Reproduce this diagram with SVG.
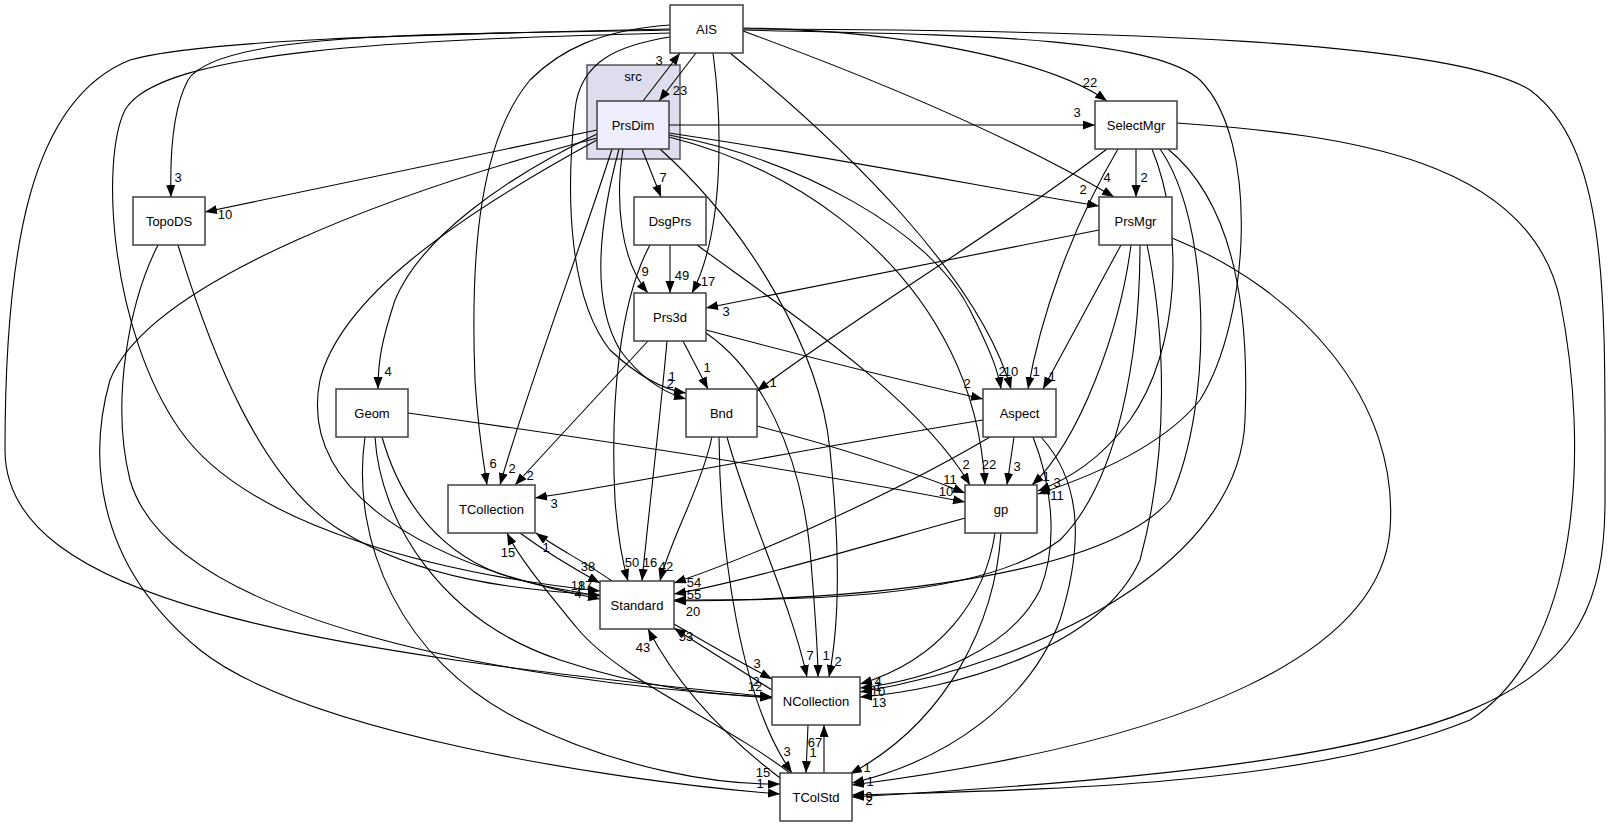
<svg xmlns="http://www.w3.org/2000/svg" width="1611" height="827" viewBox="0 0 1611 827">
<style>
.n rect{fill:#fff;stroke:#404040;stroke-width:1.5}
.n text{font-family:"Liberation Sans",Arial,sans-serif;font-size:13px;text-anchor:middle;fill:#000}
#edges path{fill:none;stroke:#000;stroke-width:1.1;marker-end:url(#ah)}
#edges text{font-family:"Liberation Sans",Arial,sans-serif;font-size:13px;text-anchor:middle;fill:#000}
</style>
<defs>
<marker id="ah" markerUnits="userSpaceOnUse" markerWidth="13" markerHeight="10" refX="12" refY="4.5" orient="auto"><path d="M0,0 L12,4.5 L0,9 z" fill="#000"/></marker>
</defs>
<rect width="1611" height="827" fill="#fff"/>
<g id="cluster_src">
<rect x="587" y="65" width="93" height="94" fill="#ddddee" stroke="#555" stroke-width="1.5"/>
<text x="633" y="81" font-family="Liberation Sans,Arial,sans-serif" font-size="13" text-anchor="middle">src</text>
</g>
<g id="edges">
<!-- AIS / PrsDim -->
<path d="M696,53 L659,101"/><text x="680" y="95">23</text>
<path d="M643,101 L680,53"/><text x="659" y="65">3</text>
<path d="M743,28 C900,30 1050,60 1107,101"/><text x="1090" y="87">22</text>
<path d="M670,30 C450,35 220,30 188,80 C172,110 170,160 171,197"/><text x="178" y="182">3</text>
<path d="M743,31 C850,70 1000,130 1114,197"/><text x="1107" y="182">4</text>
<path d="M713,53 C722,120 725,230 692,293"/><text x="708" y="286">17</text>
<path d="M730,53 C850,150 980,280 1011,389"/><text x="1011" y="376">10</text>
<path d="M670,37 C620,45 580,60 575,110 C565,200 570,300 610,350 C640,378 665,390 686,393"/><text x="672" y="381">1</text>
<path d="M670,25 C600,30 560,50 530,80 C480,140 470,250 475,380 C478,430 483,460 487,485"/><text x="493" y="468">6</text>
<path d="M743,30 C950,35 1150,35 1200,80 C1260,140 1250,320 1200,400 C1160,450 1080,480 1038,494"/><text x="1057" y="500">11</text>
<path d="M743,29 C1100,30 1450,40 1530,90 C1610,150 1605,300 1605,500 C1605,700 1500,760 852,797"/><text x="869" y="801">9</text>
<path d="M670,33 C400,40 160,50 125,110 C100,160 110,330 180,430 C250,530 450,575 600,591"/><text x="578" y="590">18</text>
<path d="M670,29 C400,35 200,40 130,60 C30,100 5,250 5,450 C5,600 300,650 772,697"/><text x="755" y="691">12</text>
<!-- PrsDim -->
<path d="M669,125 L1095,125"/><text x="1077" y="117">3</text>
<path d="M669,133 C850,160 1000,190 1099,206"/><text x="1083" y="194">2</text>
<path d="M642,149 L661,197"/><text x="663" y="182">7</text>
<path d="M623,149 C615,200 620,260 648,293"/><text x="645" y="276">9</text>
<path d="M597,130 L205,212"/><text x="225" y="219">10</text>
<path d="M597,134 C500,180 420,240 395,300 C382,340 378,360 378,389"/><text x="388" y="376">4</text>
<path d="M612,149 C580,250 530,380 500,485"/><text x="512" y="473">2</text>
<path d="M619,149 C600,220 590,300 620,350 C642,380 665,393 686,399"/><text x="670" y="388">2</text>
<path d="M669,137 C800,170 900,250 950,350 C975,400 983,450 985,485"/><text x="989" y="469">22</text>
<path d="M669,135 C800,160 930,230 970,310 C990,350 998,370 1001,389"/><text x="1002" y="376">2</text>
<path d="M660,149 C750,230 820,350 830,450 C840,550 840,620 829,677"/><text x="838" y="666">2</text>
<path d="M597,140 C450,220 340,300 320,380 C300,480 400,560 600,599"/><text x="585" y="590">17</text>
<path d="M597,138 C400,190 150,280 110,380 C90,450 90,560 200,650 C300,730 600,780 780,794"/><text x="760" y="788">1</text>
<!-- DsgPrs -->
<path d="M670,245 L670,293"/><text x="682" y="280">49</text>
<path d="M650,245 C620,300 610,400 615,500 C618,540 622,560 628,581"/><text x="632" y="567">50</text>
<path d="M697,245 C800,320 920,400 970,485"/><text x="966" y="469">2</text>
<!-- Prs3d -->
<path d="M683,341 L708,389"/><text x="707" y="372">1</text>
<path d="M706,330 C800,355 900,380 983,399"/><text x="967" y="388">2</text>
<path d="M648,341 L515,485"/><text x="530" y="480">2</text>
<path d="M667,341 C660,420 650,500 642,581"/><text x="650" y="567">16</text>
<path d="M706,333 C760,370 800,450 810,550 C815,610 818,650 818,677"/><text x="826" y="660">1</text>
<!-- SelectMgr -->
<path d="M1136,149 L1136,197"/><text x="1144" y="182">2</text>
<path d="M1118,149 C1070,230 1040,320 1028,389"/><text x="1036" y="376">1</text>
<path d="M1107,149 C1000,230 850,320 757,391"/><text x="773" y="387">1</text>
<path d="M1152,149 C1185,230 1180,350 1130,420 C1100,460 1070,478 1038,491"/><text x="1057" y="487">3</text>
<path d="M1160,149 C1210,220 1215,400 1170,500 C1100,580 850,600 674,601"/>
<path d="M1168,149 C1230,200 1250,300 1245,420 C1240,560 1050,660 860,692"/><text x="878" y="696">10</text>
<path d="M1177,123 C1350,135 1530,160 1560,300 C1590,450 1580,650 1470,720 C1300,790 1000,790 852,795"/><text x="869" y="805">2</text>
<!-- PrsMgr -->
<path d="M1099,230 L706,308"/><text x="726" y="316">3</text>
<path d="M1121,245 L1043,389"/><text x="1052" y="381">1</text>
<path d="M1131,245 C1120,330 1080,440 1032,485"/><text x="1046" y="481">1</text>
<path d="M1140,245 C1140,350 1120,480 1060,540 C980,600 800,600 674,600"/><text x="693" y="616">20</text>
<path d="M1147,245 C1165,330 1170,450 1140,560 C1100,650 950,690 860,697"/><text x="879" y="707">13</text>
<path d="M1172,238 C1300,290 1400,400 1390,530 C1380,650 1200,740 852,785"/><text x="870" y="786">1</text>
<!-- TopoDS -->
<path d="M178,245 C210,350 260,480 340,530 C420,580 520,590 600,595"/><text x="578" y="598">4</text>
<path d="M158,245 C130,300 110,400 130,480 C170,620 500,680 772,698"/><text x="756" y="686">2</text>
<!-- Geom -->
<path d="M408,413 C600,440 800,470 965,502"/><text x="946" y="496">10</text>
<path d="M382,437 C400,500 440,560 520,580 C550,588 575,592 600,596"/>
<path d="M375,437 C380,520 440,620 560,660 C650,690 720,695 772,697"/>
<path d="M365,437 C350,540 400,660 520,720 C620,770 720,785 780,784"/><text x="763" y="777">15</text>
<!-- Bnd -->
<path d="M757,426 C850,450 920,475 965,493"/><text x="950" y="484">11</text>
<path d="M712,437 C700,490 670,540 660,581"/><text x="666" y="571">42</text>
<path d="M727,437 C750,520 790,600 807,677"/><text x="810" y="660">7</text>
<path d="M719,437 C720,550 740,700 792,773"/><text x="787" y="756">3</text>
<!-- Aspect -->
<path d="M1014,437 L1007,485"/><text x="1017" y="471">3</text>
<path d="M983,420 C800,450 650,480 535,498"/><text x="554" y="508">3</text>
<path d="M990,437 C900,490 770,550 674,583"/><text x="694" y="587">54</text>
<path d="M1033,437 C1050,480 1060,540 1040,590 C1010,650 930,680 860,688"/><text x="878" y="691">1</text>
<path d="M1041,437 C1080,480 1085,540 1060,620 C1030,700 950,760 852,783"/><text x="867" y="772">1</text>
<!-- gp -->
<path d="M965,518 C850,550 750,580 674,594"/><text x="694" y="599">55</text>
<path d="M995,533 C985,600 940,660 860,684"/><text x="878" y="686">4</text>
<path d="M1001,533 C995,620 950,720 850,774"/>
<!-- TCollection / Standard -->
<path d="M520,533 C550,555 580,572 600,583"/><text x="588" y="571">38</text>
<path d="M612,581 C585,562 555,547 536,533"/><text x="546" y="552">1</text>
<path d="M790,773 C720,720 620,680 577,628 C550,595 520,560 507,533"/><text x="508" y="557">15</text>
<path d="M674,624 C710,645 740,662 772,679"/><text x="757" y="668">3</text>
<path d="M772,690 C740,670 700,645 674,628"/><text x="686" y="641">53</text>
<path d="M780,778 C730,740 680,690 648,629"/><text x="643" y="652">43</text>
<!-- NCollection / TColStd -->
<path d="M808,725 L806,773"/><text x="813" y="757">1</text>
<path d="M824,773 L824,725"/><text x="815" y="747">67</text>
</g>
<g id="AIS" class="n"><rect x="670" y="5" width="73" height="48"/><text x="706.5" y="33.5">AIS</text></g>
<g id="PrsDim" class="n"><rect x="597" y="101" width="72" height="48" style="fill:#eeeeff"/><text x="633" y="129.5">PrsDim</text></g>
<g id="DsgPrs" class="n"><rect x="634" y="197" width="72" height="48"/><text x="670" y="225.5">DsgPrs</text></g>
<g id="Prs3d" class="n"><rect x="634" y="293" width="72" height="48"/><text x="670" y="321.5">Prs3d</text></g>
<g id="Bnd" class="n"><rect x="686" y="389" width="71" height="48"/><text x="721.5" y="417.5">Bnd</text></g>
<g id="SelectMgr" class="n"><rect x="1095" y="101" width="82" height="48"/><text x="1136" y="129.5">SelectMgr</text></g>
<g id="PrsMgr" class="n"><rect x="1099" y="197" width="73" height="48"/><text x="1135.5" y="225.5">PrsMgr</text></g>
<g id="TopoDS" class="n"><rect x="133" y="197" width="72" height="48"/><text x="169" y="225.5">TopoDS</text></g>
<g id="Geom" class="n"><rect x="336" y="389" width="72" height="48"/><text x="372" y="417.5">Geom</text></g>
<g id="TCollection" class="n"><rect x="448" y="485" width="87" height="48"/><text x="491.5" y="513.5">TCollection</text></g>
<g id="Aspect" class="n"><rect x="983" y="389" width="73" height="48"/><text x="1019.5" y="417.5">Aspect</text></g>
<g id="gp" class="n"><rect x="965" y="485" width="72" height="48"/><text x="1001" y="513.5">gp</text></g>
<g id="Standard" class="n"><rect x="600" y="581" width="74" height="48"/><text x="637" y="609.5">Standard</text></g>
<g id="NCollection" class="n"><rect x="772" y="677" width="88" height="48"/><text x="816" y="705.5">NCollection</text></g>
<g id="TColStd" class="n"><rect x="780" y="773" width="72" height="48"/><text x="816" y="801.5">TColStd</text></g>
</svg>
